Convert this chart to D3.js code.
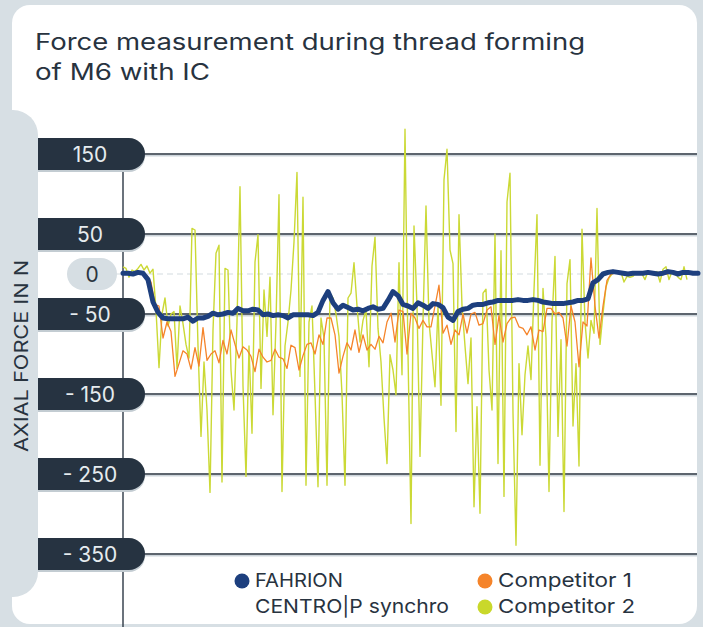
<!DOCTYPE html>
<html>
<head>
<meta charset="utf-8">
<script src="https://cdnjs.cloudflare.com/ajax/libs/d3/7.8.5/d3.min.js"></script>
<style>
  body { margin: 0; background: #d7dfe4; }
  svg { display: block; font-family: Inter, "Noto Sans", sans-serif; }
</style>
</head>
<body>
<div class="chart"></div>
<script>
// chart text
var titleLines = ["Force measurement during thread forming", "of M6 with IC"];
var yAxisTitle = "AXIAL FORCE IN N";
var yTicks = [150, 50, -50, -150, -250, -350];
var tickLabels = ["150", "50", "- 50", "- 150", "- 250", "- 350"];

// series (axial force in N, evenly sampled over the run)
var fahrion = [1, 1, 0, 2, 1, -7, -35, -48, -55, -56, -56, -56, -56, -54, -59, -55, -55, -53, -49, -51,
  -50, -48, -49, -43, -46, -46, -44, -45, -51, -50, -52, -51, -52, -55, -51, -51, -51, -51, -52, -48,
  -33, -22, -36, -44, -39, -42, -45, -44, -46, -43, -41, -44, -43, -33, -22, -27, -38, -40, -43, -36,
  -39, -43, -37, -38, -42, -54, -58, -47, -44, -43, -39, -38, -38, -36, -35, -33, -33, -33, -33, -32,
  -33, -33, -32, -33, -35, -36, -37, -37, -37, -36, -35, -33, -33, -31, -11, -7, 0, 2, 3, 2,
  1, 0, 1, 1, 1, 2, 1, 0, 1, 3, 2, 0, 2, 2, 1, 1];

var competitor1 = [0, 1, 0, 2, 1, 0, -2, -10, -38, -40, -80, -60, -72, -128, -112, -96, -100, -119, -92, -115,
  -67, -108, -100, -96, -111, -83, -100, -70, -88, -105, -91, -95, -103, -122, -94, -104, -110, -108, -94, -104,
  -106, -118, -89, -92, -120, -102, -88, -86, -100, -76, -88, -55, -55, -76, -124, -103, -86, -95, -70, -98,
  -76, -95, -88, -94, -78, -86, -60, -49, -85, -45, -47, -100, -49, -55, -68, -58, -66, -66, -40, -14,
  -74, -64, -88, -70, -76, -50, -74, -50, -48, -64, -62, -45, -41, -88, -52, -85, -62, -55, -54, -66,
  -68, -76, -66, -95, -70, -72, -43, -43, -50, -48, -55, -90, -40, -60, -116, -60, -65, 20, -40, -80,
  -40, -8, 0, 1, 1, 0, 0, 1, 1, 2, 1, 0, 1, 1, 2, 1, 0, 2, 3, 1, 0, 1, 1];

var competitor2 = [9, 7, -4, 5, 3, 7, 12, 5, 10, 1, 6, -45, -117, -50, -30, -65, -50, -47, -118, -40,
  -62, -88, -105, 57, 55, -90, -203, -110, -170, -273, -70, 26, 36, -260, 7, 5, -120, -170, -60, 109,
  -140, -253, -90, -199, 15, 49, -143, -20, -78, -4, -176, -60, 99, -272, -90, -60, -20, 40, 127, -128,
  96, -264, -60, -40, -150, -266, -55, -80, -264, -24, -30, -50, -78, -150, -264, -30, -24, 14, -40, -85,
  -58, -45, -116, 10, 46, -68, -110, -180, -237, -101, -120, -151, 14, -126, 181, -100, -312, 60, -40, -228,
  -58, 85, -60, -100, -141, -40, -164, 118, 156, 30, 13, -197, 74, -40, -90, -137, -80, -291, -166, -299,
  -24, -19, -120, -170, 50, -237, 29, -278, 90, 126, -174, -339, -112, -201, -126, -90, -132, -20, 74, -239,
  -18, -80, -272, -60, 22, -203, -82, -297, -12, 18, -190, -112, -240, 56, -60, -105, -58, -74, 82, -88,
  -49, -16, -5, 0, 4, 3, 2, -10, -3, -4, -3, 2, 0, 0, -7, 3, 1, 0, 3, -10,
  6, 9, -7, 3, 2, -4, -7, 9, -7];

var legendItems = [
  { lines: ["FAHRION", "CENTRO|P synchro"], widths: [88, 194], color: "#1d3f7e", col: 0, row: 0 },
  { lines: ["Competitor 1"], widths: [134], color: "#f5842a", col: 1, row: 0 },
  { lines: ["Competitor 2"], widths: [137], color: "#c9d82b", col: 1, row: 1 }
];

var svgWidth = 703;
var svgHeight = 627;

var svg = d3.select(".chart")
  .append("svg")
  .attr("width", svgWidth)
  .attr("height", svgHeight);

var bg = "#d7dfe4";
var dark = "#263341";

svg.append("rect").attr("width", svgWidth).attr("height", svgHeight).attr("fill", bg);

// white card
svg.append("rect")
  .attr("x", 12).attr("y", 5)
  .attr("width", 685).attr("height", 619)
  .attr("rx", 18)
  .attr("fill", "#ffffff");

// grey band behind the y axis title
svg.append("rect")
  .attr("x", -30).attr("y", 110)
  .attr("width", 68).attr("height", 487)
  .attr("rx", 25)
  .attr("fill", bg);

// title (the original face is wider than Inter, so stretch to its width)
var titleWidths = [550, 175];
svg.append("g")
  .selectAll("text")
  .data(titleLines)
  .enter()
  .append("text")
  .attr("x", 35)
  .attr("y", function(d, i) { return 50 + i * 30; })
  .attr("fill", "#28333f")
  .attr("font-size", "22.5px")
  .attr("textLength", function(d, i) { return titleWidths[i]; })
  .attr("lengthAdjust", "spacingAndGlyphs")
  .text(function(d) { return d; });

// scales
var plotLeft = 123;
var plotRight = 698;

var yScale = d3.scaleLinear()
  .domain([-350, 150])
  .range([554, 154]);

// x is the sample time of the run; every series is evenly spaced along it
var xScale = d3.scaleLinear()
  .domain([0, 575])
  .range([plotLeft, plotRight]);

var steps = { fahrion: 5, competitor1: 4, competitor2: 3 };

// y axis title
svg.append("text")
  .attr("transform", "translate(21," + 356 + ") rotate(-90)")
  .attr("text-anchor", "middle")
  .attr("dominant-baseline", "central")
  .attr("fill", "#28333f")
  .attr("font-size", "19px")
  .attr("textLength", 192)
  .attr("lengthAdjust", "spacingAndGlyphs")
  .text(yAxisTitle);

// grid lines
var grid = svg.append("g");
grid.selectAll(".shadow")
  .data(yTicks)
  .enter()
  .append("line")
  .attr("x1", 140).attr("x2", 697)
  .attr("y1", function(d) { return yScale(d) + 1.8; })
  .attr("y2", function(d) { return yScale(d) + 1.8; })
  .attr("stroke", "#cdd5db")
  .attr("stroke-width", 1.5);
grid.selectAll(".gl")
  .data(yTicks)
  .enter()
  .append("line")
  .attr("x1", 140).attr("x2", 697)
  .attr("y1", function(d) { return yScale(d); })
  .attr("y2", function(d) { return yScale(d); })
  .attr("stroke", "#27323e")
  .attr("stroke-width", 1.5);

// zero line
svg.append("line")
  .attr("x1", 117).attr("x2", 697)
  .attr("y1", yScale(0)).attr("y2", yScale(0))
  .attr("stroke", "#d3dbe0")
  .attr("stroke-width", 1.2)
  .attr("stroke-dasharray", "6,4");

// vertical axis line
svg.append("line")
  .attr("x1", plotLeft).attr("x2", plotLeft)
  .attr("y1", 154).attr("y2", svgHeight)
  .attr("stroke", "#3a4551")
  .attr("stroke-width", 1.5);

// series
function linePath(step) {
  return d3.line()
    .x(function(d, i) { return xScale(i * step); })
    .y(function(d) { return yScale(d); });
}

svg.append("path")
  .datum(competitor2)
  .attr("d", linePath(steps.competitor2))
  .attr("fill", "none")
  .attr("stroke", "#cbd935")
  .attr("stroke-width", 1.4)
  .attr("stroke-linejoin", "round");

svg.append("path")
  .datum(competitor1)
  .attr("d", linePath(steps.competitor1))
  .attr("fill", "none")
  .attr("stroke", "#f5842a")
  .attr("stroke-width", 1.3)
  .attr("stroke-linejoin", "round");

svg.append("path")
  .datum(fahrion)
  .attr("d", linePath(steps.fahrion))
  .attr("fill", "none")
  .attr("stroke", "#1d3f7e")
  .attr("stroke-width", 5)
  .attr("stroke-linejoin", "round")
  .attr("stroke-linecap", "round");

// tick pills
function pill(y) {
  var h = 32, r = 16, x0 = 38, x1 = 145;
  return "M" + x0 + "," + (y - h / 2) + " H" + (x1 - r) +
    " A" + r + "," + r + " 0 0 1 " + (x1 - r) + "," + (y + h / 2) +
    " H" + x0 + " Z";
}

var ticks = svg.append("g");
ticks.selectAll(".pshadow")
  .data(yTicks)
  .enter()
  .append("path")
  .attr("d", function(d) { return pill(yScale(d) + 2); })
  .attr("fill", "#c3ccd2");
ticks.selectAll(".pill")
  .data(yTicks)
  .enter()
  .append("path")
  .attr("d", function(d) { return pill(yScale(d)); })
  .attr("fill", dark);
ticks.selectAll("text")
  .data(yTicks)
  .enter()
  .append("text")
  .attr("x", 90)
  .attr("y", function(d) { return yScale(d) + 7.5; })
  .attr("text-anchor", "middle")
  .attr("fill", "#e6ecef")
  .attr("font-size", "21px")
  .text(function(d, i) { return tickLabels[i]; });

// zero pill
svg.append("rect")
  .attr("x", 67).attr("y", yScale(0) - 16)
  .attr("width", 50).attr("height", 32)
  .attr("rx", 16)
  .attr("fill", "#d6dee3");
svg.append("text")
  .attr("x", 92).attr("y", yScale(0) + 7.5)
  .attr("text-anchor", "middle")
  .attr("fill", "#2b3540")
  .attr("font-size", "21px")
  .text("0");

// legend
var legend = svg.append("g");
var colX = [242, 485];
var rowY = [581, 607];
var entry = legend.selectAll(".item")
  .data(legendItems)
  .enter()
  .append("g");
entry.append("circle")
  .attr("cx", function(d) { return colX[d.col]; })
  .attr("cy", function(d) { return rowY[d.row]; })
  .attr("r", 7.5)
  .attr("fill", function(d) { return d.color; });
entry.selectAll("text")
  .data(function(d) {
    return d.lines.map(function(l, i) {
      return { text: l, w: d.widths[i], x: colX[d.col] + 13, y: rowY[d.row] + 6 + i * 26 };
    });
  })
  .enter()
  .append("text")
  .attr("x", function(d) { return d.x; })
  .attr("y", function(d) { return d.y; })
  .attr("fill", "#28333f")
  .attr("font-size", "19px")
  .attr("textLength", function(d) { return d.w; })
  .attr("lengthAdjust", "spacingAndGlyphs")
  .text(function(d) { return d.text; });
</script>
</body>
</html>
